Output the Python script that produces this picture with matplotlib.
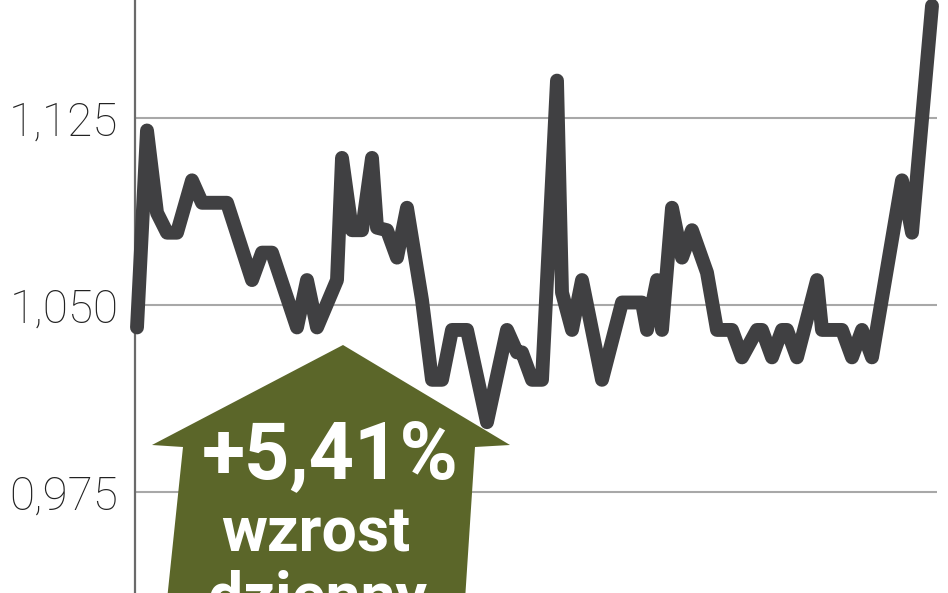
import matplotlib
matplotlib.use('Agg')
import matplotlib.pyplot as plt
from matplotlib.patches import Polygon
from matplotlib import font_manager as fm

# session index and exchange rate
days = [0, 2, 4, 6, 8, 11, 13, 18, 23, 25, 27, 32, 34, 36, 40, 41, 43, 45, 47, 48,
        50, 52, 54, 57, 59, 61, 63, 66, 70, 74, 76, 77, 79, 81, 84, 85, 87, 89, 93, 97,
        101, 102, 104, 105, 107, 109, 111, 114, 116, 119, 121, 124, 125, 127, 129, 130,
        132, 136, 137, 141, 143, 145, 147, 153, 155, 159]
kurs = [1.041, 1.120, 1.087, 1.079, 1.079, 1.100, 1.091, 1.091, 1.060, 1.071, 1.071,
        1.041, 1.060, 1.041, 1.060, 1.109, 1.080, 1.080, 1.109, 1.081, 1.080, 1.069,
        1.089, 1.052, 1.020, 1.020, 1.040, 1.040, 1.003, 1.040, 1.031, 1.031, 1.020,
        1.020, 1.140, 1.055, 1.040, 1.060, 1.020, 1.051, 1.051, 1.040, 1.060, 1.040,
        1.089, 1.069, 1.080, 1.063, 1.040, 1.040, 1.029, 1.040, 1.040, 1.029, 1.040,
        1.040, 1.029, 1.060, 1.040, 1.040, 1.029, 1.040, 1.029, 1.100, 1.079, 1.170]

yticks = [0.975, 1.050, 1.125]
ytick_labels = ['0,975', '1,050', '1,125']
change_label = '+5,41%'
caption_lines = ['wzrost', 'dzienny']

names = {f.name for f in fm.fontManager.ttflist}
def pick(*cands):
    for c in cands:
        if c in names:
            return c
    return 'DejaVu Sans'

tick_font = pick('Roboto', 'Lato', 'DejaVu Sans')
bold_font = pick('Roboto', 'DejaVu Sans')

W, H = 948, 593
fig = plt.figure(figsize=(W / 100, H / 100), dpi=100)
ax = fig.add_axes([135 / W, 0, (937 - 135) / W, 1])
ax.set_xlim(-0.4, 160)
ax.set_ylim(0.93449, 1.17233)

for s in ['top', 'right', 'bottom']:
    ax.spines[s].set_visible(False)
ax.spines['left'].set_color('#6a6a6a')
ax.spines['left'].set_linewidth(1.6)

ax.set_xticks([])
ax.set_yticks(yticks)
ax.set_yticklabels(ytick_labels)
ax.tick_params(axis='y', length=0, pad=12, labelsize=33, labelcolor='#222222')
for lab in ax.get_yticklabels():
    lab.set_fontfamily(tick_font)
    lab.set_fontweight('light')
ax.grid(axis='y', color='#a8a8a8', linewidth=1.5, zorder=0)
ax.set_axisbelow(True)

ax.plot(days, kurs, color='#404042', lw=10, solid_joinstyle='round',
        solid_capstyle='round', zorder=4, clip_on=False)

# arrow annotation (figure pixel coords)
pts_px = [(343, 345), (510, 445), (475, 447), (465, 600), (167, 600), (183, 447), (152, 445)]
pts = [(x / W, 1 - y / H) for x, y in pts_px]
arrow = Polygon(pts, closed=True, transform=fig.transFigure,
                facecolor='#5b6629', edgecolor='none', zorder=2, clip_on=False)
ax.add_patch(arrow)

ax.text(330 / W, 1 - 478 / H, change_label, transform=fig.transFigure, ha='center',
        va='baseline', fontsize=57, fontweight='bold', color='white',
        family=bold_font, zorder=5)
ax.text(316 / W, 1 - 552 / H, caption_lines[0], transform=fig.transFigure, ha='center',
        va='baseline', fontsize=45, fontweight='bold', color='white',
        family=bold_font, zorder=5)
ax.text(317 / W, 1 - 616 / H, caption_lines[1], transform=fig.transFigure, ha='center',
        va='baseline', fontsize=45, fontweight='bold', color='white',
        family=bold_font, zorder=5)

fig.savefig('out.png', dpi=100)
